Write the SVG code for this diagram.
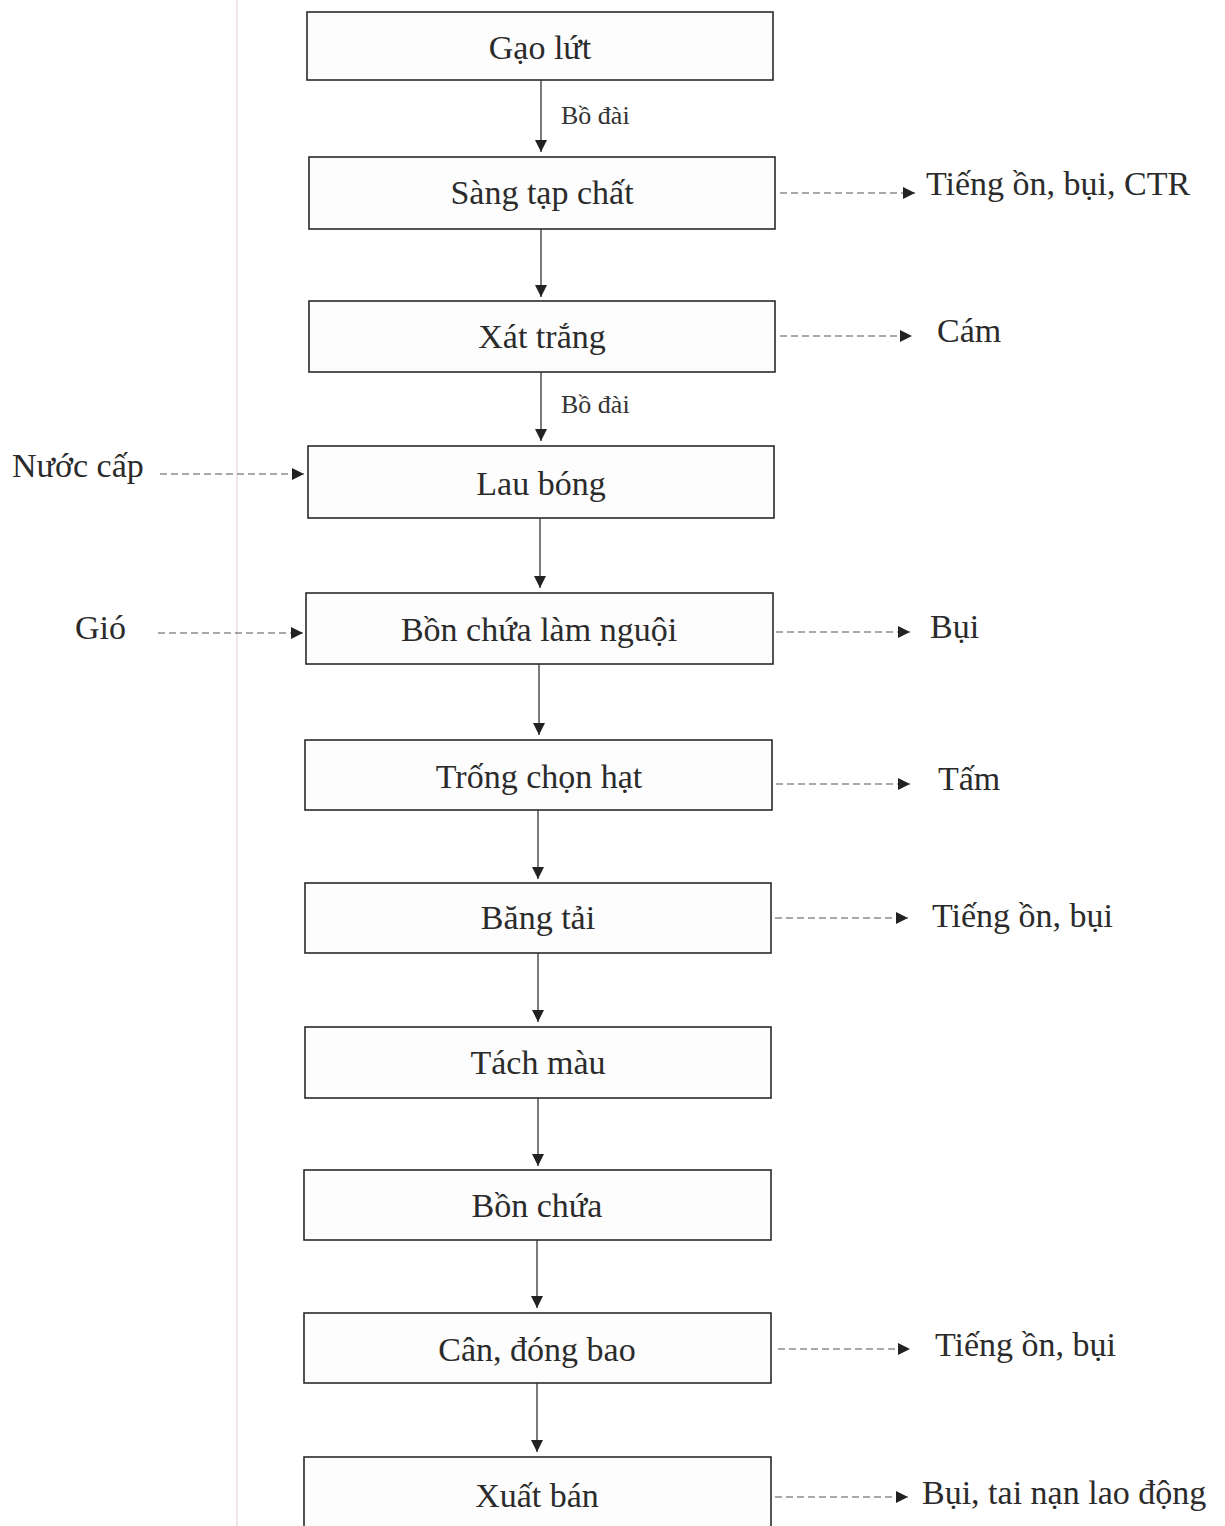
<svg xmlns="http://www.w3.org/2000/svg" width="1225" height="1526" viewBox="0 0 1225 1526">
<defs>
<style>
.box{fill:#fdfdfd;stroke:#2a2a2a;stroke-width:1.6}
.t{font-family:"Liberation Serif","Times New Roman",serif;font-size:34px;fill:#2b2b2b;text-anchor:middle}
.lb{font-family:"Liberation Serif","Times New Roman",serif;font-size:34px;fill:#2b2b2b}
.sm{font-family:"Liberation Serif","Times New Roman",serif;font-size:26px;fill:#333}
.flow{stroke:#333;stroke-width:1.3;fill:none;marker-end:url(#ah)}
.dash{stroke:#555;stroke-width:1.2;fill:none;stroke-dasharray:7 4;marker-end:url(#ah)}
</style>
<marker id="ah" markerUnits="userSpaceOnUse" markerWidth="14" markerHeight="14" refX="12" refY="6" orient="auto">
<path d="M0,0 L12,6 L0,12 Z" fill="#222"/>
</marker>
</defs>
<rect width="1225" height="1526" fill="#ffffff"/>
<line x1="237" y1="0" x2="237" y2="1526" stroke="#f3e6ea" stroke-width="2"/>

<g id="n1"><rect class="box" x="307" y="12" width="466" height="68"/><text class="t" x="540" y="59">Gạo lứt</text></g>
<g id="n2"><rect class="box" x="309" y="157" width="466" height="72"/><text class="t" x="542" y="204">Sàng tạp chất</text></g>
<g id="n3"><rect class="box" x="309" y="301" width="466" height="71"/><text class="t" x="542" y="348">Xát trắng</text></g>
<g id="n4"><rect class="box" x="308" y="446" width="466" height="72"/><text class="t" x="541" y="495">Lau bóng</text></g>
<g id="n5"><rect class="box" x="306" y="593" width="467" height="71"/><text class="t" x="539" y="641">Bồn chứa làm nguội</text></g>
<g id="n6"><rect class="box" x="305" y="740" width="467" height="70"/><text class="t" x="539" y="788">Trống chọn hạt</text></g>
<g id="n7"><rect class="box" x="305" y="883" width="466" height="70"/><text class="t" x="538" y="929">Băng tải</text></g>
<g id="n8"><rect class="box" x="305" y="1027" width="466" height="71"/><text class="t" x="538" y="1074">Tách màu</text></g>
<g id="n9"><rect class="box" x="304" y="1170" width="467" height="70"/><text class="t" x="537" y="1217">Bồn chứa</text></g>
<g id="n10"><rect class="box" x="304" y="1313" width="467" height="70"/><text class="t" x="537" y="1361">Cân, đóng bao</text></g>
<g id="n11"><rect class="box" x="304" y="1457" width="467" height="90"/><text class="t" x="537" y="1507">Xuất bán</text></g>

<g id="in-nuoc"><text class="lb" x="12" y="477">Nước cấp</text></g>
<g id="in-gio"><text class="lb" x="75" y="639">Gió</text></g>
<g id="out1"><text class="lb" x="926" y="195">Tiếng ồn, bụi, CTR</text></g>
<g id="out2"><text class="lb" x="937" y="342">Cám</text></g>
<g id="out3"><text class="lb" x="930" y="638">Bụi</text></g>
<g id="out4"><text class="lb" x="938" y="790">Tấm</text></g>
<g id="out5"><text class="lb" x="932" y="927">Tiếng ồn, bụi</text></g>
<g id="out6"><text class="lb" x="935" y="1356">Tiếng ồn, bụi</text></g>
<g id="out7"><text class="lb" x="922" y="1504">Bụi, tai nạn lao động</text></g>

<g id="connectors">
<line class="flow" x1="541" y1="80" x2="541" y2="152"/>
<text class="sm" x="561" y="124">Bồ đài</text>
<line class="flow" x1="541" y1="229" x2="541" y2="297"/>
<line class="flow" x1="541" y1="372" x2="541" y2="441"/>
<text class="sm" x="561" y="413">Bồ đài</text>
<line class="flow" x1="540" y1="518" x2="540" y2="588"/>
<line class="flow" x1="539" y1="664" x2="539" y2="735"/>
<line class="flow" x1="538" y1="810" x2="538" y2="879"/>
<line class="flow" x1="538" y1="953" x2="538" y2="1022"/>
<line class="flow" x1="538" y1="1098" x2="538" y2="1166"/>
<line class="flow" x1="537" y1="1240" x2="537" y2="1308"/>
<line class="flow" x1="537" y1="1383" x2="537" y2="1452"/>

<line class="dash" x1="780" y1="193" x2="915" y2="193"/>
<line class="dash" x1="780" y1="336" x2="912" y2="336"/>
<line class="dash" x1="776" y1="632" x2="910" y2="632"/>
<line class="dash" x1="776" y1="784" x2="910" y2="784"/>
<line class="dash" x1="775" y1="918" x2="908" y2="918"/>
<line class="dash" x1="778" y1="1349" x2="910" y2="1349"/>
<line class="dash" x1="775" y1="1497" x2="908" y2="1497"/>
<line class="dash" x1="160" y1="474" x2="304" y2="474"/>
<line class="dash" x1="158" y1="633" x2="303" y2="633"/>
</g>
</svg>
